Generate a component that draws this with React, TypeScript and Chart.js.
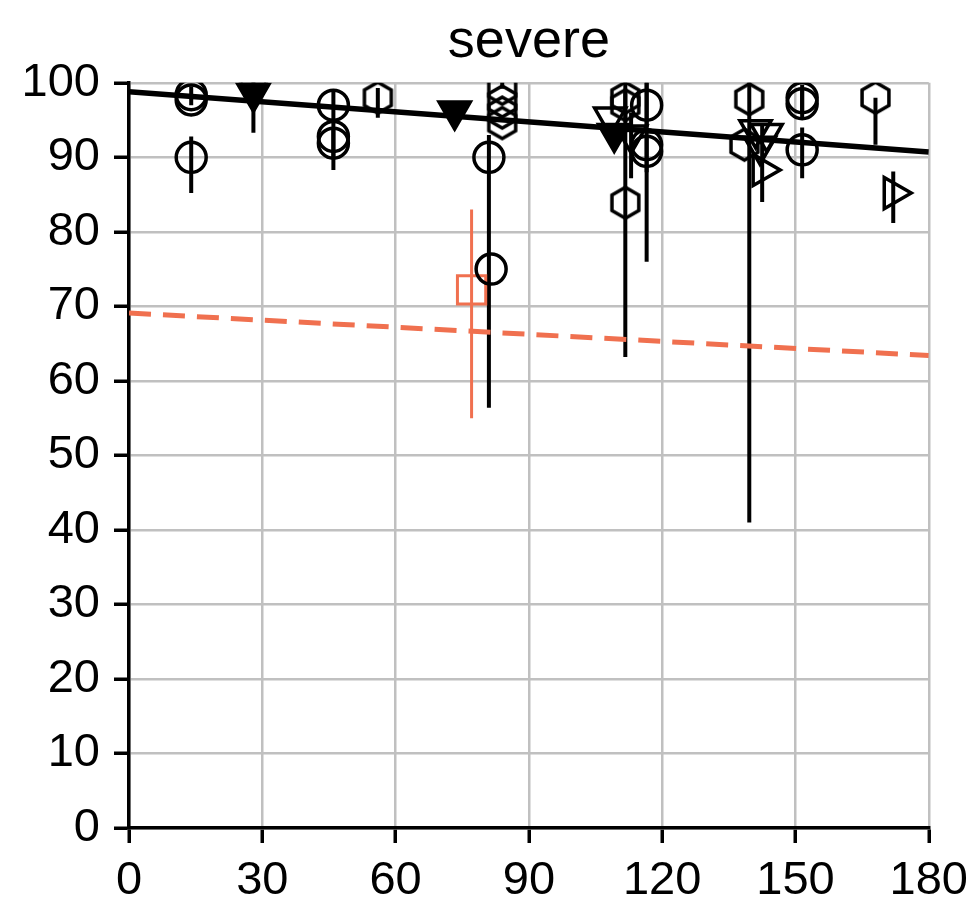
import React, { useEffect, useRef } from "react";
import { Chart, registerables } from "chart.js";
Chart.register(...registerables);

const FONT = "'Liberation Sans', Arial, Helvetica, sans-serif";
const ORANGE = "#F0704F";

const titleText = "severe";
const xTicks = [0, 30, 60, 90, 120, 150, 180];
const yTicks = [0, 10, 20, 30, 40, 50, 60, 70, 80, 90, 100];

// circles
const circleX = [14, 14, 14, 46, 46, 46, 81, 81.5, 116.5, 116.5, 116.5, 151.5, 151.5, 151.5];
const circleY = [98.4, 97.7, 90, 97, 92.8, 91.9, 90, 75, 97, 91.7, 90.8, 98, 97.2, 91];
const circleLo = [97.8, 97, 85.2, 95, 90, 88.3, 56.4, 75, 94, 76, 88, 96, 95, 87.2];
const circleHi = [99.5, 98.5, 92.8, 99, 95, 94, 93, 75, 101, 100, 93, 99.7, 99, 94];

// hexagons
const hexX = [56, 84, 84, 84, 84, 111.7, 111.7, 111.7, 139.6, 138.5, 168];
const hexY = [98, 99.2, 97.5, 96, 94.6, 98, 97, 83.9, 97.8, 91.7, 98];
const hexLo = [95.3, 99.2, 97.5, 96, 94.6, 63.2, 95, 83.9, 41, 91.7, 91.7];
const hexHi = [99.3, 103, 97.5, 96, 94.6, 101, 99, 83.9, 101, 91.7, 98];

// down triangles (outline)
const triDownX = [108.3, 113, 141, 143.5, 142];
const triDownY = [95.4, 93, 93.7, 93.2, 91.5];
const triDownLo = [95.4, 87.2, 93.7, 93.2, 91.5];
const triDownHi = [95.4, 96, 93.7, 93.2, 91.5];

// down triangles (filled)
const triFillX = [28, 28, 73.3, 109.2];
const triFillY = [99.5, 98.6, 96.2, 93.2];
const triFillLo = [99.5, 93.3, 96.2, 93.2];
const triFillHi = [101, 100, 96.2, 93.2];

// right triangles
const triRightX = [142.5, 172];
const triRightY = [88.3, 85.2];
const triRightLo = [84, 81.2];
const triRightHi = [94.4, 88.1];

// orange square
const squareX = [77.1];
const squareY = [72.2];
const squareLo = [55];
const squareHi = [83];

// fitted lines
const fitX = [0, 180];
const fitBlackY = [98.8, 90.7];
const fitOrangeY = [69.1, 63.4];

const pts = (xs: number[], ys: number[]) => xs.map((x, i) => ({ x, y: ys[i] }));

function makeHex(r: number, lw: number, color: string) {
  const size = Math.ceil(2 * r + lw + 2);
  const c = document.createElement("canvas");
  c.width = size;
  c.height = size;
  const ctx = c.getContext("2d")!;
  ctx.translate(size / 2, size / 2);
  ctx.beginPath();
  for (let i = 0; i < 6; i++) {
    const a = ((60 * i - 90) * Math.PI) / 180;
    const px = Math.cos(a) * r;
    const py = Math.sin(a) * r;
    if (i === 0) ctx.moveTo(px, py);
    else ctx.lineTo(px, py);
  }
  ctx.closePath();
  ctx.lineWidth = lw;
  ctx.strokeStyle = color;
  ctx.stroke();
  return c;
}

const errorBarPlugin = {
  id: "errorBars",
  beforeDatasetsDraw(chart: any) {
    const { ctx, chartArea } = chart;
    const yScale = chart.scales.y;
    const xScale = chart.scales.x;
    ctx.save();
    ctx.beginPath();
    ctx.rect(chartArea.left, chartArea.top, chartArea.right - chartArea.left, chartArea.bottom - chartArea.top);
    ctx.clip();
    chart.data.datasets.forEach((ds: any) => {
      if (!ds.errLo) return;
      ctx.strokeStyle = ds.errColor || "black";
      ctx.lineWidth = ds.errWidth || 4;
      ds.data.forEach((p: any, i: number) => {
        const lo = ds.errLo[i];
        const hi = ds.errHi[i];
        if (lo === hi) return;
        const px = xScale.getPixelForValue(p.x);
        ctx.beginPath();
        ctx.moveTo(px, yScale.getPixelForValue(lo));
        ctx.lineTo(px, yScale.getPixelForValue(hi));
        ctx.stroke();
      });
    });
    ctx.restore();
  },
};

export default function App() {
  const ref = useRef<HTMLCanvasElement>(null);
  useEffect(() => {
    const hex = makeHex(15.5, 3.5, "black");
    const markerBase = {
      type: "scatter" as const,
      showLine: false,
      borderColor: "black",
      pointBorderColor: "black",
      pointBorderWidth: 3.5,
      clip: 0,
      errColor: "black",
      errWidth: 4,
    };
    const chart = new Chart(ref.current!, {
      type: "scatter",
      data: {
        datasets: [
          {
            type: "scatter",
            data: pts(fitX, fitBlackY),
            showLine: true,
            borderColor: "black",
            borderWidth: 5.5,
            pointRadius: 0,
            clip: 0,
          } as any,
          {
            type: "scatter",
            data: pts(fitX, fitOrangeY),
            showLine: true,
            borderColor: ORANGE,
            borderWidth: 5,
            borderDash: [22, 12],
            pointRadius: 0,
            clip: 0,
          } as any,
          {
            ...markerBase,
            data: pts(circleX, circleY),
            pointStyle: "circle",
            pointRadius: 15,
            pointBackgroundColor: "rgba(0,0,0,0)",
            errLo: circleLo,
            errHi: circleHi,
          } as any,
          {
            ...markerBase,
            data: pts(hexX, hexY),
            pointStyle: hex,
            pointRadius: 16,
            errLo: hexLo,
            errHi: hexHi,
          } as any,
          {
            ...markerBase,
            data: pts(triDownX, triDownY),
            pointStyle: "triangle",
            rotation: 180,
            pointRotation: 180,
            pointRadius: 18,
            pointBackgroundColor: "rgba(0,0,0,0)",
            errLo: triDownLo,
            errHi: triDownHi,
          } as any,
          {
            ...markerBase,
            data: pts(triFillX, triFillY),
            pointStyle: "triangle",
            rotation: 180,
            pointRotation: 180,
            pointRadius: 18,
            pointBackgroundColor: "black",
            errLo: triFillLo,
            errHi: triFillHi,
          } as any,
          {
            ...markerBase,
            data: pts(triRightX, triRightY),
            pointStyle: "triangle",
            rotation: 90,
            pointRotation: 90,
            pointRadius: 18,
            pointBackgroundColor: "rgba(0,0,0,0)",
            errLo: triRightLo,
            errHi: triRightHi,
          } as any,
          {
            ...markerBase,
            data: pts(squareX, squareY),
            pointStyle: "rect",
            pointRadius: 20,
            pointBorderWidth: 3,
            borderColor: ORANGE,
            pointBorderColor: ORANGE,
            pointBackgroundColor: "rgba(0,0,0,0)",
            errColor: ORANGE,
            errWidth: 3,
            errLo: squareLo,
            errHi: squareHi,
          } as any,
        ],
      },
      options: {
        animation: false,
        responsive: false,
        maintainAspectRatio: false,
        layout: { padding: { left: 0, right: 48, top: 0, bottom: 0 } },
        plugins: {
          legend: { display: false },
          tooltip: { enabled: false },
          title: {
            display: true,
            fullSize: false,
            text: titleText,
            color: "black",
            font: { family: FONT, size: 54, weight: "normal", lineHeight: 1.2 },
            padding: { top: 10, bottom: 8 },
          },
        },
        scales: {
          x: {
            type: "linear",
            min: 0,
            max: 180,
            afterBuildTicks: (s: any) => {
              s.ticks = xTicks.map((v) => ({ value: v }));
            },
            afterFit: (s: any) => {
              s.height = 91;
            },
            ticks: {
              color: "black",
              font: { family: FONT, size: 47 },
              padding: 10,
              maxRotation: 0,
              autoSkip: false,
            },
            grid: {
              color: "#c0c0c0",
              lineWidth: 2.5,
              tickLength: 15,
              tickColor: "black",
              tickWidth: 3.5,
            },
            border: { color: "black", width: 3.5 },
          },
          y: {
            type: "linear",
            min: 0,
            max: 100,
            afterBuildTicks: (s: any) => {
              s.ticks = yTicks.map((v) => ({ value: v }));
            },
            afterFit: (s: any) => {
              s.width = 129;
            },
            ticks: {
              color: "black",
              font: { family: FONT, size: 47 },
              padding: 14,
              autoSkip: false,
            },
            grid: {
              color: "#c0c0c0",
              lineWidth: 2.5,
              tickLength: 15,
              tickColor: "black",
              tickWidth: 3.5,
            },
            border: { color: "black", width: 3.5 },
          },
        },
      } as any,
      plugins: [errorBarPlugin],
    });
    return () => chart.destroy();
  }, []);
  return (
    <div style={{ position: "absolute", left: 0, top: 0, width: 978, height: 919, background: "white" }}>
      <canvas ref={ref} width={978} height={919} style={{ width: 978, height: 919, display: "block" }} />
    </div>
  );
}
